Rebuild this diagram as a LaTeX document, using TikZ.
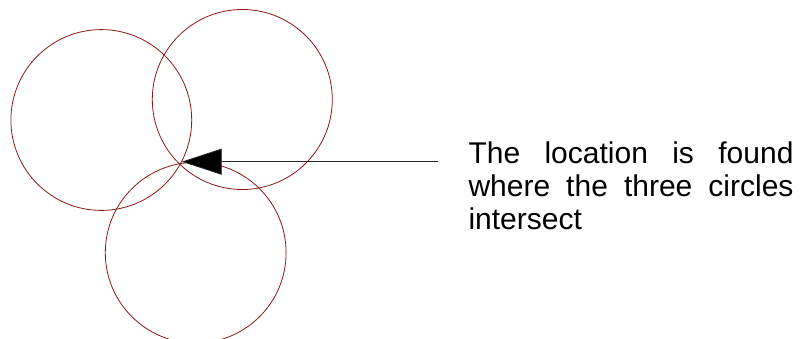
\documentclass[tikz,border=0pt]{standalone}
\usepackage{fontspec}
\setmainfont{Liberation Sans}
\usetikzlibrary{arrows.meta}
\definecolor{circred}{RGB}{140,22,22}
\begin{document}
\begin{tikzpicture}[x=1pt,y=-1pt,
  ring/.style={draw=circred,line width=0.8pt},
  pointer/.style={draw=black!85,line width=0.9pt,-{Triangle[length=40pt,width=26pt,fill=black]}}]
\useasboundingbox (0,0) rectangle (805,338);
\clip (0,0) rectangle (805,338);
\draw[ring] (101.3,120) circle[radius=90.4];
\draw[ring] (242.3,99.5) circle[radius=90];
\draw[ring] (195.7,252.7) circle[radius=90.4];
\coordinate (meet) at (181.7,161.7);
\coordinate (start) at (438.3,161.7);
\draw[pointer] (start) -- (meet);
\node[anchor=base west,inner sep=0pt] (caption) at (468.3,163.3)
  {\parbox[t]{325pt}{\fontsize{30}{33}\selectfont
   \makebox[325pt][s]{The location is found}\\
   \makebox[325pt][s]{where the three circles}\\
   intersect}};
\end{tikzpicture}
\end{document}
